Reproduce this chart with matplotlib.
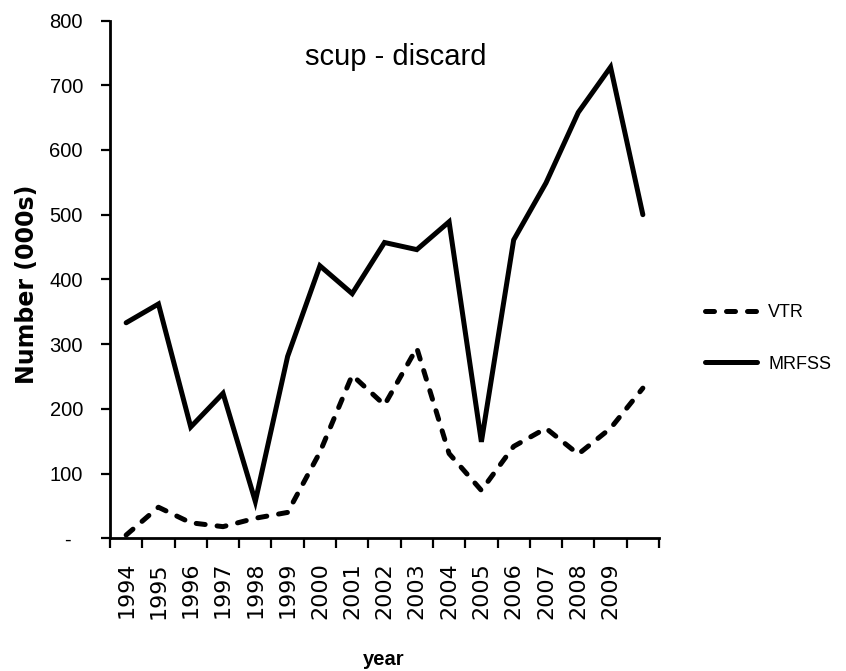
import numpy as np
import matplotlib
matplotlib.use('Agg')
import matplotlib.pyplot as plt

sans = ['Liberation Sans', 'DejaVu Sans']

# data (thousands of fish)
years = [1994, 1995, 1996, 1997, 1998, 1999, 2000, 2001, 2002,
         2003, 2004, 2005, 2006, 2007, 2008, 2009, 2010]
tick_years = ['1994', '1995', '1996', '1997', '1998', '1999', '2000', '2001',
              '2002', '2003', '2004', '2005', '2006', '2007', '2008', '2009']
vtr = [5, 48, 24, 18, 31, 40, 133, 252, 206, 294, 131, 74, 142, 170, 130, 170, 232]
mrfss = [333, 362, 172, 224, 57, 281, 421, 378, 457, 446, 489, 149, 461, 549, 658, 728, 500]
y_ticks = [0, 100, 200, 300, 400, 500, 600, 700, 800]
y_labels = ['-  ', '100', '200', '300', '400', '500', '600', '700', '800']

W, H = 846, 671
fig = plt.figure(figsize=(W / 100, H / 100), dpi=100)
ax = fig.add_axes([110 / W, 1 - 538.3 / H, 549 / W, 517.8 / H])

x = np.arange(len(years))
ax.plot(x, vtr, color='black', lw=3.6, linestyle=(0, (1.8, 2.4)),
        dash_capstyle='round', solid_capstyle='round', label='VTR')
ax.plot(x, mrfss, color='black', lw=3.6, solid_capstyle='round',
        solid_joinstyle='miter', label='MRFSS')

ax.set_xlim(-0.5, len(years) - 0.5)
ax.set_ylim(0, 800)

for s in ['top', 'right']:
    ax.spines[s].set_visible(False)
for s in ['left', 'bottom']:
    ax.spines[s].set_linewidth(2)

# category axis: tick marks between categories, labels in the middle
ax.set_xticks(np.arange(len(tick_years)))
ax.set_xticklabels(tick_years, rotation=90, family='DejaVu Sans', fontsize=16)
ax.set_xticks(np.arange(-0.5, len(years)), minor=True)
ax.tick_params(axis='x', which='major', length=0, pad=17)
ax.tick_params(axis='x', which='minor', length=7, width=1.6, direction='out')

ax.set_yticks(y_ticks)
ax.set_yticklabels(y_labels, family=sans, fontsize=14.5)
ax.tick_params(axis='y', length=6.5, width=1.6, direction='out', pad=13)

fig.text(396 / W, 1 - 65 / H, 'scup - discard', family=sans, fontsize=21,
         ha='center', va='baseline')
fig.text(27 / W, 1 - 284 / H, 'Number (000s)', family='DejaVu Sans',
         fontweight='bold', fontsize=17, rotation=90, ha='center', va='center')
fig.text(384 / W, 1 - 665 / H, 'year', family=sans, fontweight='bold',
         fontsize=14.5, ha='center', va='baseline')

leg = ax.legend(loc='center left', bbox_to_anchor=(705 / W, 1 - 338.5 / H),
                bbox_transform=fig.transFigure, frameon=False,
                prop={'family': sans, 'size': 13}, handlelength=2.9,
                handletextpad=0.6, labelspacing=1.9, borderpad=0,
                borderaxespad=0)

fig.savefig('out.png', dpi=100)
